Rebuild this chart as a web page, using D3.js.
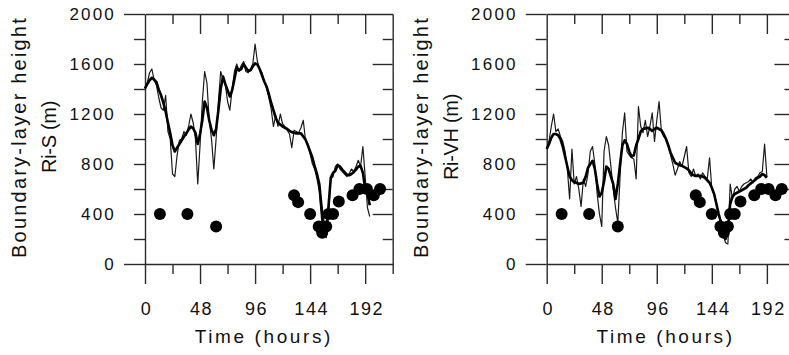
<!DOCTYPE html>
<html>
<head>
<meta charset="utf-8">
<script src="https://cdn.jsdelivr.net/npm/d3@7"></script>
<style>
  body { margin: 0; background: #fff; }
  svg { display: block; }
  text { font-family: "Liberation Sans", Arial, sans-serif; fill: #111; }
</style>
</head>
<body>
<div id="chart"></div>
<script>
// Sample times (hours)
var hours = [0, 2, 4, 6, 8, 10, 12, 14, 16, 18, 20, 22, 24, 26, 28, 30, 32, 34, 36, 38,
    40, 42, 44, 46, 48, 50, 52, 54, 56, 58, 60, 62, 64, 66, 68, 70, 72, 74, 76, 78,
    80, 82, 84, 86, 88, 90, 92, 94, 96, 98, 100, 102, 104, 106, 108, 110, 112, 114, 116, 118,
    120, 122, 124, 126, 128, 130, 132, 134, 136, 138, 140, 142, 144, 146, 148, 150, 152, 154, 156, 158,
    160, 162, 164, 166, 168, 170, 172, 174, 176, 178, 180, 182, 184, 186, 188, 190, 192, 194, 196];

// Ri-S panel: thick and thin curves
var riSThick = [1405, 1440, 1470, 1490, 1475, 1455, 1395, 1350, 1290, 1220, 1130, 1045, 950, 900, 930, 960, 990, 1020, 1045, 1075,
    1100, 1085, 1050, 960, 1040, 1150, 1300, 1250, 1150, 1075, 1030, 1080, 1230, 1400, 1500, 1440, 1390, 1340, 1390, 1480,
    1570, 1550, 1560, 1600, 1570, 1545, 1550, 1580, 1605, 1595, 1560, 1510, 1460, 1420, 1360, 1290, 1230, 1170, 1130, 1115,
    1100, 1090, 1080, 1065, 1055, 1050, 1045, 1045, 1045, 1020, 995, 950, 900, 850, 780, 720, 640, 450, 300, 260,
    460, 690, 730, 745, 790, 780, 755, 735, 715, 710, 720, 735, 755, 780, 785, 730, 600, 560, 470];
var riSThin = [1400, 1450, 1530, 1560, 1470, 1430, 1330, 1250, 1230, 1350, 1060, 1000, 720, 700, 870, 990, 1000, 1060, 1030, 1100,
    1200, 1130, 1000, 640, 950, 1300, 1540, 1450, 1150, 1000, 760, 1000, 1300, 1540, 1480, 1440, 1300, 1230, 1400, 1540,
    1600, 1540, 1590, 1620, 1540, 1530, 1560, 1600, 1760, 1620, 1560, 1530, 1460, 1410, 1330, 1240, 1100, 1190, 1100, 1200,
    1120, 1100, 1070, 1040, 930, 1070, 1060, 1050, 1090, 1150, 990, 960, 880, 800, 760, 680, 580, 350, 240, 210,
    400, 680, 700, 780, 800, 760, 740, 720, 700, 720, 760, 740, 780, 830, 780, 940, 700, 450, 380];

// Ri-VH panel: thick and thin curves (ends at 192 h)
var riVHThick = [920, 960, 1010, 1040, 1040, 1030, 1000, 940, 860, 780, 700, 670, 655, 650, 640, 645, 650, 700, 770, 800,
    825, 760, 640, 540, 570, 660, 780, 760, 700, 640, 520, 640, 800, 950, 990, 960, 900, 860, 870, 950,
    1000, 1060, 1080, 1085, 1090, 1080, 1065, 1080, 1090, 1080, 1070, 1040, 1000, 950, 890, 850, 810, 800, 790, 785,
    775, 765, 750, 725, 710, 705, 705, 705, 700, 690, 670, 650, 610, 560, 480, 400, 330, 260, 200, 280,
    480, 540, 560, 570, 580, 590, 600, 610, 630, 645, 660, 675, 690, 700, 720, 710, 690];
var riVHThin = [920, 980, 1100, 1200, 1060, 1080, 1020, 980, 900, 760, 520, 920, 640, 700, 600, 460, 680, 620, 720, 900,
    940, 800, 560, 400, 300, 900, 1020, 950, 780, 600, 450, 330, 700, 1050, 1210, 900, 870, 850, 840, 680,
    1260, 1100, 1050, 1150, 1020, 1100, 1210, 980, 1150, 1300, 1060, 1020, 1000, 960, 870, 800, 710, 760, 820, 780,
    860, 940, 730, 700, 760, 700, 720, 680, 730, 700, 680, 850, 600, 560, 480, 380, 350, 230, 170, 160,
    640, 520, 600, 620, 580, 620, 640, 650, 660, 680, 650, 690, 700, 730, 740, 960, 700];

// Observed heights (dots), same in both panels
var obsHours = [13, 37, 62, 130, 133.5, 144, 151.5, 154.5, 158, 160, 164, 169, 181, 187, 193.5, 199.5, 205];
var obsHeight = [400, 400, 300, 550, 495, 400, 300, 250, 300, 400, 400, 500, 550, 600, 600, 550, 600];

// Ticks
var xMajor = [0, 48, 96, 144, 192];
var xMinor = [24, 72, 120, 168, 216];
var yMajor = [0, 400, 800, 1200, 1600, 2000];
var yMinor = [200, 600, 1000, 1400, 1800];
var yInner = [200, 400, 600, 800, 1000, 1200, 1400, 1600, 1800];

var svgWidth = 789;
var svgHeight = 355;

var svg = d3.select("#chart")
    .append("svg")
    .attr("width", svgWidth)
    .attr("height", svgHeight);

var panels = [
    { x0: 145, label: "Ri-S (m)", thick: riSThick, thin: riSThin },
    { x0: 546.7, label: "Ri-VH (m)", thick: riVHThick, thin: riVHThin }
];

var frameColor = "#2a2a2a";

function styleAxis(g, keepDomain) {
    if (!keepDomain) g.select(".domain").remove();
    else g.select(".domain").attr("stroke", frameColor).attr("stroke-width", 1.4);
    g.selectAll(".tick line").attr("stroke", frameColor).attr("stroke-width", 1.4);
}

panels.forEach(function(p) {
    var x = d3.scaleLinear().domain([0, 216]).range([p.x0, p.x0 + 247.7]);
    var y = d3.scaleLinear().domain([0, 2000]).range([264, 14]);
    var g = svg.append("g");

    // Left axis: outward ticks every 200, long ones at 0 and 2000
    g.append("g")
        .attr("transform", `translate(${x(0)},0)`)
        .call(d3.axisLeft(y).tickValues(yInner).tickSize(11).tickSizeOuter(0).tickFormat(""))
        .call(gg => styleAxis(gg, true));
    g.append("g")
        .attr("transform", `translate(${x(0)},0)`)
        .call(d3.axisLeft(y).tickValues([0, 2000]).tickSize(21).tickFormat(""))
        .call(gg => styleAxis(gg, false));
    // Left labels
    g.append("g")
        .attr("transform", `translate(${x(0)},0)`)
        .call(d3.axisLeft(y).tickValues(yMajor).tickSize(0).tickPadding(29).tickFormat(d3.format("d")))
        .call(gg => {
            gg.select(".domain").remove();
            gg.selectAll("text")
                .attr("font-size", "17px")
                .style("letter-spacing", "2.2px")
                .attr("fill", "#111");
        });

    // Right axis: inward ticks
    g.append("g")
        .attr("transform", `translate(${x(216)},0)`)
        .call(d3.axisLeft(y).tickValues([400, 800, 1200, 1600]).tickSize(20).tickSizeOuter(0).tickFormat(""))
        .call(gg => styleAxis(gg, true));
    g.append("g")
        .attr("transform", `translate(${x(216)},0)`)
        .call(d3.axisLeft(y).tickValues(yMinor).tickSize(10).tickFormat(""))
        .call(gg => styleAxis(gg, false));

    // Top axis: inward ticks
    g.append("g")
        .attr("transform", `translate(0,${y(2000)})`)
        .call(d3.axisBottom(x).tickValues([48, 96, 144, 192]).tickSize(20).tickSizeOuter(0).tickFormat(""))
        .call(gg => styleAxis(gg, true));
    g.append("g")
        .attr("transform", `translate(0,${y(2000)})`)
        .call(d3.axisBottom(x).tickValues(xMinor.slice(0, 4)).tickSize(10).tickFormat(""))
        .call(gg => styleAxis(gg, false));

    // Bottom axis: outward ticks with labels
    g.append("g")
        .attr("transform", `translate(0,${y(0)})`)
        .call(d3.axisBottom(x).tickValues(xMajor).tickSize(20).tickSizeOuter(0).tickPadding(18))
        .call(gg => {
            styleAxis(gg, true);
            gg.selectAll("text")
                .attr("font-size", "18px")
                .attr("dx", "1px")
                .style("letter-spacing", "1.5px")
                .attr("fill", "#111");
        });
    g.append("g")
        .attr("transform", `translate(0,${y(0)})`)
        .call(d3.axisBottom(x).tickValues(xMinor).tickSize(10).tickFormat(""))
        .call(gg => styleAxis(gg, false));

    // Curves
    var line = d3.line()
        .x((d, i) => x(hours[i]))
        .y(d => y(d));

    g.append("path")
        .datum(p.thin)
        .attr("d", line)
        .attr("fill", "none")
        .attr("stroke", "#1a1a1a")
        .attr("stroke-width", 1.2)
        .attr("stroke-linejoin", "round");

    g.append("path")
        .datum(p.thick)
        .attr("d", line)
        .attr("fill", "none")
        .attr("stroke", "#000")
        .attr("stroke-width", 2.6)
        .attr("stroke-linejoin", "round");

    // Observations
    g.selectAll("circle.obs")
        .data(obsHours)
        .enter()
        .append("circle")
        .attr("class", "obs")
        .attr("cx", d => x(d))
        .attr("cy", (d, i) => y(obsHeight[i]))
        .attr("r", 6)
        .attr("fill", "#000");

    // X title
    g.append("text")
        .attr("x", x(108) - 5)
        .attr("y", 343)
        .attr("text-anchor", "middle")
        .attr("font-size", "19px")
        .style("letter-spacing", "2.6px")
        .text("Time (hours)");

    // Y title (two lines)
    g.append("text")
        .attr("transform", `translate(${x(0) - 119}, 137) rotate(-90)`)
        .attr("text-anchor", "middle")
        .attr("font-size", "20px")
        .style("letter-spacing", "2.2px")
        .text("Boundary-layer height");
    g.append("text")
        .attr("transform", `translate(${x(0) - 89}, 137) rotate(-90)`)
        .attr("text-anchor", "middle")
        .attr("font-size", "20px")
        .style("letter-spacing", "-0.3px")
        .text(p.label);
});
</script>
</body>
</html>
